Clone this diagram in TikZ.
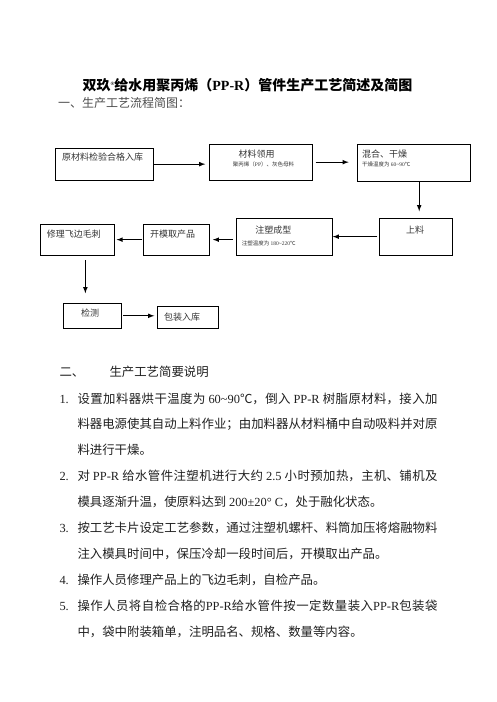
\documentclass[tikz,border=0pt]{standalone}
\usepackage{fontspec}
\setmainfont{Noto Sans CJK SC}
\newfontfamily\latfont{Liberation Serif}
\newcommand\lat[1]{{\latfont #1}}
\usetikzlibrary{arrows, positioning, calc}
\XeTeXlinebreaklocale "zh"
\XeTeXlinebreakskip=0pt plus 2pt
\tolerance=9999

\begin{document}
\begin{tikzpicture}[x=1pt, y=-1pt,
  box/.style={draw, line width=0.9pt, inner sep=0pt, outer sep=0pt},
  hd/.style={font=\fontsize{9}{9}\selectfont, text=black!80, inner sep=0pt},
  sub/.style={font=\fontsize{5.5}{5.5}\selectfont, text=black!80, inner sep=0pt},
  body/.style={font=\fontsize{12.4}{25.8}\selectfont, text=black!88, inner sep=0pt, anchor=base west},
  para/.style={body, text width=360pt, align=justify},
  flow/.style={->, >=latex, line width=1.1pt}]
  \useasboundingbox (0,0) rectangle (496,702);

  % Titel und Ueberschrift
  \node[font=\fontsize{14}{14}\selectfont\bfseries, anchor=base, inner sep=0pt] (title) at (247.5,90.3)
    {双玖\raisebox{4.5pt}{\fontsize{5}{5}\selectfont\lat{®}}给水用聚丙烯（\lat{PP-R}）管件生产工艺简述及简图};
  \node[body, font=\fontsize{12}{12}\selectfont, text=black!70] (yi) at (58,107.9) {一、生产工艺流程简图：};

  % Kaesten
  \node[box, minimum width=98pt, minimum height=31.7pt] (ycl) at (104.3,164.15) {};
  \node[box, minimum width=103.4pt, minimum height=35.7pt] (lingyong) at (261,162.15) {};
  \node[box, minimum width=113pt, minimum height=37.7pt] (hunhe) at (414.2,162.85) {};
  \node[box, minimum width=73pt, minimum height=36.7pt] (shangliao) at (415.8,236.65) {};
  \node[box, minimum width=96pt, minimum height=36.7pt] (zhusu) at (284.7,236.65) {};
  \node[box, minimum width=66pt, minimum height=30.7pt] (kaimo) at (176.3,239.65) {};
  \node[box, minimum width=73.3pt, minimum height=30.7pt] (xiuli) at (77.35,239.65) {};
  \node[box, minimum width=58.4pt, minimum height=25pt] (jiance) at (92.5,315.8) {};
  \node[box, minimum width=61pt, minimum height=22.3pt] (baozhuang) at (187.8,317.15) {};

  % Beschriftung
  \node[hd, anchor=base west] (t-ycl) at (62,160.4) {原材料检验合格入库};
  \node[hd, anchor=base] (t-ly) at (256.7,157.4) {材料领用};
  \node[sub, anchor=base] (s-ly) at (263.5,166.4) {聚丙烯（\lat{PP}）、灰色母料};
  \node[hd, anchor=base west] (t-hh) at (362,157.7) {混合、干燥};
  \node[sub, anchor=base west] (s-hh) at (362,166.4) {干燥温度为 \lat{60\textasciitilde 90}℃};
  \node[hd, anchor=base] (t-sl) at (415,233.4) {上料};
  \node[hd, anchor=base] (t-zs) at (273.3,233.4) {注塑成型};
  \node[sub, anchor=base west] (s-zs) at (241.7,245.4) {注塑温度为 \lat{180\textasciitilde 220}℃};
  \node[hd, anchor=base west] (t-km) at (150,237.7) {开模取产品};
  \node[hd, anchor=base west] (t-xl) at (46.7,237.7) {修理飞边毛刺};
  \node[hd, anchor=base] (t-jc) at (90,316.1) {检测};
  \node[hd, anchor=base west] (t-bz) at (164,320.7) {包装入库};

  % Pfeile
  \draw[flow, shorten <=1pt, shorten >=4pt] (ycl.east) -- (ycl.east -| lingyong.west);
  \draw[flow, shorten <=3pt, shorten >=9pt] (lingyong.east) -- (lingyong.east -| hunhe.west);
  \draw[flow, shorten >=7pt] ([xshift=5pt]hunhe.south) -- ([xshift=5pt]hunhe.south |- shangliao.north);
  \draw[flow, shorten <=2pt] (shangliao.west) -- (shangliao.west -| zhusu.east);
  \draw[flow, shorten <=3.5pt, shorten >=3.5pt] (kaimo.east -| zhusu.west) -- (kaimo.east);
  \draw[flow, shorten <=1pt, shorten >=2.5pt] (kaimo.west) -- (xiuli.east);
  \draw[flow, shorten <=5pt, shorten >=10pt] ([xshift=8pt]xiuli.south) -- ([xshift=8pt]xiuli.south |- jiance.north);
  \draw[flow, shorten <=1.5pt, shorten >=3pt] (jiance.east) -- (jiance.east -| baozhuang.west);

  % Erlaeuterung
  \node[body] (er) at (59.3,376.4) {二、};
  \node[body] (er-t) at (109.3,376.4) {生产工艺简要说明};
  \foreach \i/\y in {1/403, 2/480.9, 3/532.2, 4/584.9, 5/610.6}
    \node[body] (n\i) at (59.3,\y) {\lat{\i.}};
  \node[para] (p1) at (77.3,403) {设置加料器烘干温度为 \lat{60\textasciitilde 90}℃，倒入 \lat{PP-R} 树脂原材料，接入加\linebreak
    料器电源使其自动上料作业；由加料器从材料桶中自动吸料并对原\linebreak
    料进行干燥。};
  \node[para] (p2) at (77.3,480.9) {对 \lat{PP-R} 给水管件注塑机进行大约 \lat{2.5} 小时预加热，主机、铺机及\linebreak
    模具逐渐升温，使原料达到 \lat{200±20°\ C}，处于融化状态。};
  \node[para] (p3) at (77.3,532.2) {按工艺卡片设定工艺参数，通过注塑机螺杆、料筒加压将熔融物料\linebreak
    注入模具时间中，保压冷却一段时间后，开模取出产品。};
  \node[para] (p4) at (77.3,584.9) {操作人员修理产品上的飞边毛刺，自检产品。};
  \node[para] (p5) at (77.3,610.6) {操作人员将自检合格的\lat{PP-R}给水管件按一定数量装入\lat{PP-R}包装袋\linebreak
    中，袋中附装箱单，注明品名、规格、数量等内容。};
\end{tikzpicture}
\end{document}
